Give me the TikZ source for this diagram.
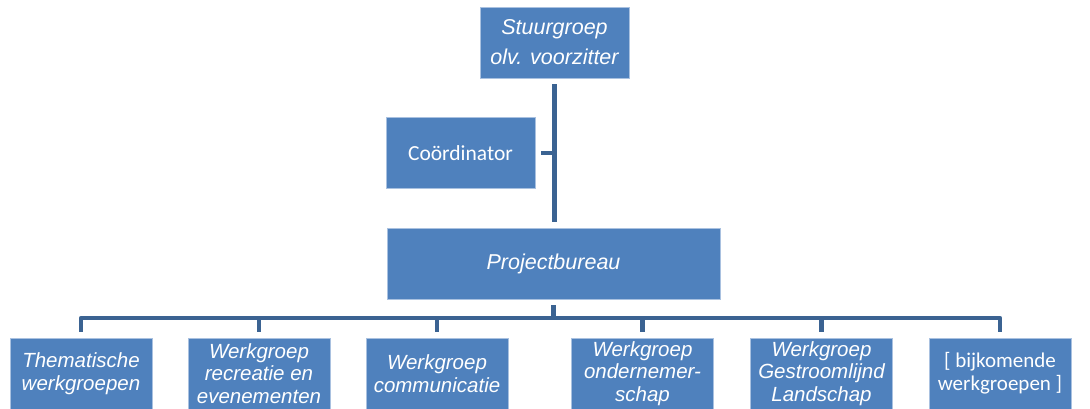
\documentclass[tikz,border=0pt]{standalone}
\usepackage{fontspec}
\setmainfont{Liberation Sans}
\newfontfamily\calibrifont{Carlito}
\definecolor{boxblue}{HTML}{4F81BD}
\definecolor{rimblue}{HTML}{A9C1E0}
\definecolor{linkblue}{HTML}{3B6392}
\tikzset{
  orgbox/.style={rectangle, fill=boxblue, draw=rimblue, line width=0.8pt,
    text=white, inner sep=0pt, align=center},
  topbox/.style={orgbox, minimum width=149, minimum height=71,
    font=\fontsize{21.5}{30}\selectfont\itshape},
  wgbox/.style={orgbox, minimum width=142, minimum height=71,
    font=\fontsize{20.5}{22.5}\selectfont\itshape},
  link/.style={draw=linkblue, line width=4.5pt, line join=round}
}
\begin{document}
\begin{tikzpicture}[x=1pt,y=1pt]
\useasboundingbox (0,0) rectangle (1090,-408);

% top part
\node[topbox] at (554.5,-42.5) (stuur) {Stuurgroep\\olv. voorzitter};
\node[topbox, font=\fontsize{21.5}{24}\selectfont\calibrifont] at (460.5,-153) (coord) {Co\"ordinator};
\node[topbox, minimum width=333] at (553.5,-263.5) (proj) {Projectbureau};

\draw[link, shorten <=6pt, shorten >=6pt] (stuur.south) -- (stuur.south |- proj.north);
\draw[link, shorten <=6pt] (coord.east) -- (coord.east -| stuur.south);

% werkgroepen
\node[wgbox] at (81,-373.5) (wg1) {Thematische\\werkgroepen};
\node[wgbox] at (259,-373.5) (wg2) {Werkgroep\\recreatie en\\evenementen};
\node[wgbox] at (437,-373.5) (wg3) {Werkgroep\\communicatie};
\node[wgbox] at (642.5,-373.5) (wg4) {Werkgroep\\ondernemer-\\schap};
\node[wgbox] at (821.5,-373.5) (wg5) {Werkgroep\\Gestroomlijnd\\Landschap};
\node[wgbox, font=\fontsize{21}{23}\selectfont\calibrifont] at (1000,-373.5) (wg6) {[ bijkomende\\werkgroepen ]};

%%%%%%%%%%%%%%%%%%%%%%%%%%%%%%%%%%%%%%
\coordinate (bus) at (553.5,-318);
\draw[link, shorten <=6pt] (proj.south) -- (bus);
\draw[link, shorten <=6pt, shorten >=6pt] (wg1.north) |- (wg6.north |- bus) -- (wg6.north);
\draw[link, shorten >=6pt] (bus -| wg2.north) -- (wg2.north);
\draw[link, shorten >=6pt] (bus -| wg3.north) -- (wg3.north);
\draw[link, shorten >=6pt] (bus -| wg4.north) -- (wg4.north);
\draw[link, shorten >=6pt] (bus -| wg5.north) -- (wg5.north);

\end{tikzpicture}
\end{document}
